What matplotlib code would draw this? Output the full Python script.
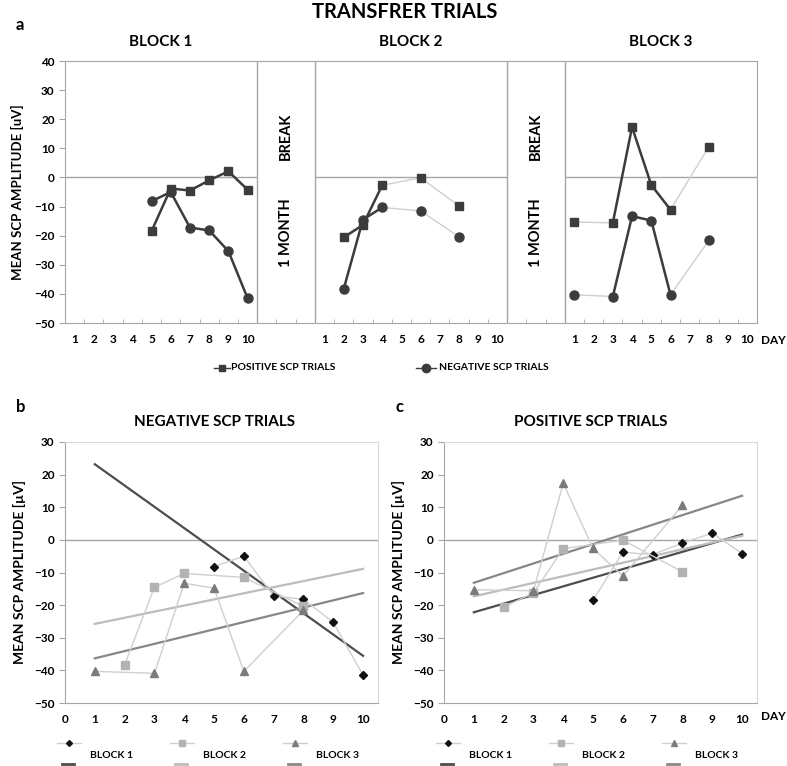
import numpy as np
import matplotlib
matplotlib.use('Agg')
import matplotlib.pyplot as plt
from matplotlib.lines import Line2D

plt.rcParams['font.family'] = ['Lato', 'DejaVu Sans']
plt.rcParams['font.weight'] = 'bold'

# Datos
dias = list(range(1, 11))
b1_dias = [5, 6, 7, 8, 9, 10]
b2_dias = [2, 3, 4, 6, 8]
b3_dias = [1, 3, 4, 5, 6, 8]

b1_pos = [-18.5, -3.8, -4.5, -1.0, 2.1, -4.2]
b1_neg = [-8.2, -5.0, -17.2, -18.2, -25.3, -41.5]
b2_pos = [-20.6, -16.3, -2.7, -0.1, -9.8]
b2_neg = [-38.3, -14.5, -10.3, -11.5, -20.4]
b3_pos = [-15.3, -15.6, 17.3, -2.6, -11.1, 10.6]
b3_neg = [-40.3, -40.9, -13.3, -14.8, -40.3, -21.6]

bloques = ['BLOCK 1', 'BLOCK 2', 'BLOCK 3']
offsets = [0, 13, 26]   # posición de cada bloque en el eje de categorías

OSCURO = '#3c3c3c'
CLARO = '#cfcfcf'
GRIS = '#a6a6a6'

W, H = 787, 766
fig = plt.figure(figsize=(7.87, 7.66), dpi=100)


def fx(px):
    return px / W


def fy(py):
    return 1 - py / H


# ---------------- Panel a ----------------
ax = fig.add_axes([fx(65), fy(323), 692/W, 262/H])
ax.set_xlim(0, 36)
ax.set_ylim(-50, 40)


def dibujar(ax, off, xs, ys, marker, ms):
    px = [off + d - 0.5 for d in xs]
    for i in range(len(xs) - 1):
        seguido = xs[i+1] - xs[i] == 1
        ax.plot(px[i:i+2], ys[i:i+2], color=OSCURO if seguido else CLARO,
                lw=1.8 if seguido else 1.0, zorder=2)
    ax.plot(px, ys, ls='none', marker=marker, ms=ms, color=OSCURO, zorder=3)


for off, xs, pos, neg in zip(offsets, [b1_dias, b2_dias, b3_dias],
                             [b1_pos, b2_pos, b3_pos], [b1_neg, b2_neg, b3_neg]):
    ax.hlines(0, off, off + 10, color=GRIS, lw=1)
    dibujar(ax, off, xs, pos, 's', 5.5)
    dibujar(ax, off, xs, neg, 'o', 6.5)

for x in [10, 13, 23, 26]:
    ax.axvline(x, color=GRIS, lw=1)

for s in ax.spines.values():
    s.set_color(GRIS)

ax.set_xticks(np.arange(0, 37), minor=True)
ax.set_xticks([off + d - 0.5 for off in offsets for d in dias])
ax.set_xticklabels([str(d) for off in offsets for d in dias])
ax.tick_params(axis='x', which='minor', direction='in', length=3, color=GRIS)
ax.tick_params(axis='x', which='major', length=0, pad=8, labelsize=8.5)
ax.set_yticks(np.arange(-50, 41, 10))
ax.tick_params(axis='y', length=4, color=GRIS, labelsize=8.5)
ax.set_ylabel('MEAN SCP AMPLITUDE [uV]', fontsize=9.5, fontweight='bold', labelpad=7)

for c in [11.5, 24.5]:
    ax.text(c, 14, 'BREAK', rotation=90, ha='center', va='center', fontsize=10.5)
    ax.text(c, -19, '1 MONTH', rotation=90, ha='center', va='center', fontsize=10.5)

for off, nombre in zip(offsets, bloques):
    ax.text(off + 5, 46.5, nombre, ha='center', va='center', fontsize=11)

fig.text(fx(761), fy(340), 'DAY', ha='left', va='center', fontsize=8.5)

fig.text(fx(405), fy(12), 'TRANSFRER TRIALS', ha='center', va='center', fontsize=14.5)
fig.text(fx(20), fy(25), 'a', ha='center', va='center', fontsize=12)

# leyenda panel a
ly = fy(368)
fig.add_artist(Line2D([fx(214), fx(230)], [ly, ly], color=OSCURO, lw=1,
                      transform=fig.transFigure))
fig.add_artist(Line2D([fx(222)], [ly], color=OSCURO, marker='s', ms=5, ls='none',
                      transform=fig.transFigure))
fig.text(fx(231), ly, 'POSITIVE SCP TRIALS', ha='left', va='center', fontsize=7.5)
fig.add_artist(Line2D([fx(416), fx(436)], [ly, ly], color=OSCURO, lw=1,
                      transform=fig.transFigure))
fig.add_artist(Line2D([fx(426)], [ly], color=OSCURO, marker='o', ms=6, ls='none',
                      transform=fig.transFigure))
fig.text(fx(439), ly, 'NEGATIVE SCP TRIALS', ha='left', va='center', fontsize=7.5)

# ---------------- Paneles b y c ----------------
marcadores = [('D', 4.5, '#111111'), ('s', 6, '#b3b3b3'), ('^', 6, '#7b7b7b')]
tendencias = ['#4d4d4d', '#bcbcbc', '#878787']

paneles = [
    (65, 214, 'NEGATIVE SCP TRIALS', 'b', [b1_neg, b2_neg, b3_neg]),
    (444, 591, 'POSITIVE SCP TRIALS', 'c', [b1_pos, b2_pos, b3_pos]),
]

for left, tx, titulo, letra, series in paneles:
    axp = fig.add_axes([fx(left), fy(703), 313/W, 261/H])
    axp.set_xlim(0, 10.5)
    axp.set_ylim(-50, 30)
    axp.axhline(0, color=GRIS, lw=1)
    for xs, ys, (mk, ms, col), tc in zip([b1_dias, b2_dias, b3_dias], series,
                                         marcadores, tendencias):
        axp.plot(xs, ys, color=CLARO, lw=1, marker=mk, ms=ms, mfc=col, mec=col, zorder=3)
        # línea de tendencia lineal (como en Excel)
        k, b = np.polyfit(xs, ys, 1)
        xt = np.array([1, 10])
        axp.plot(xt, k * xt + b, color=tc, lw=1.6, zorder=2)
    for s in axp.spines.values():
        s.set_color('#d9d9d9')
    axp.spines['left'].set_color(GRIS)
    axp.spines['bottom'].set_color(GRIS)
    axp.set_xticks(range(0, 11))
    axp.set_yticks(range(-50, 31, 10))
    axp.tick_params(axis='x', length=0, pad=8, labelsize=8.5)
    axp.tick_params(axis='y', length=4, color=GRIS, labelsize=8.5)
    axp.set_ylabel('MEAN SCP AMPLITUDE [µV]', fontsize=10, fontweight='bold', labelpad=6)
    fig.text(fx(tx), fy(422), titulo, ha='center', va='center', fontsize=11)
    fig.text(fx(left - 44), fy(407), letra, ha='center', va='center', fontsize=12)

    # leyenda manual
    for j, ((mk, ms, col), tc, nombre) in enumerate(zip(marcadores, tendencias, bloques)):
        x0 = left - 8 + j * 113
        y1 = fy(743)
        fig.add_artist(Line2D([fx(x0), fx(x0 + 24)], [y1, y1], color=CLARO, lw=1,
                              transform=fig.transFigure))
        fig.add_artist(Line2D([fx(x0 + 12)], [y1], color=col, marker=mk, ms=ms - 1.5,
                              ls='none', transform=fig.transFigure))
        y2 = fy(764)
        fig.add_artist(Line2D([fx(x0 + 5), fx(x0 + 17)], [y2, y2], color=tc, lw=2,
                              transform=fig.transFigure))
        fig.text(fx(x0 + 33), fy(755), nombre, ha='left', va='center', fontsize=7.5)

fig.text(fx(761), fy(717), 'DAY', ha='left', va='center', fontsize=8.5)

fig.savefig('out.png', dpi=100)
